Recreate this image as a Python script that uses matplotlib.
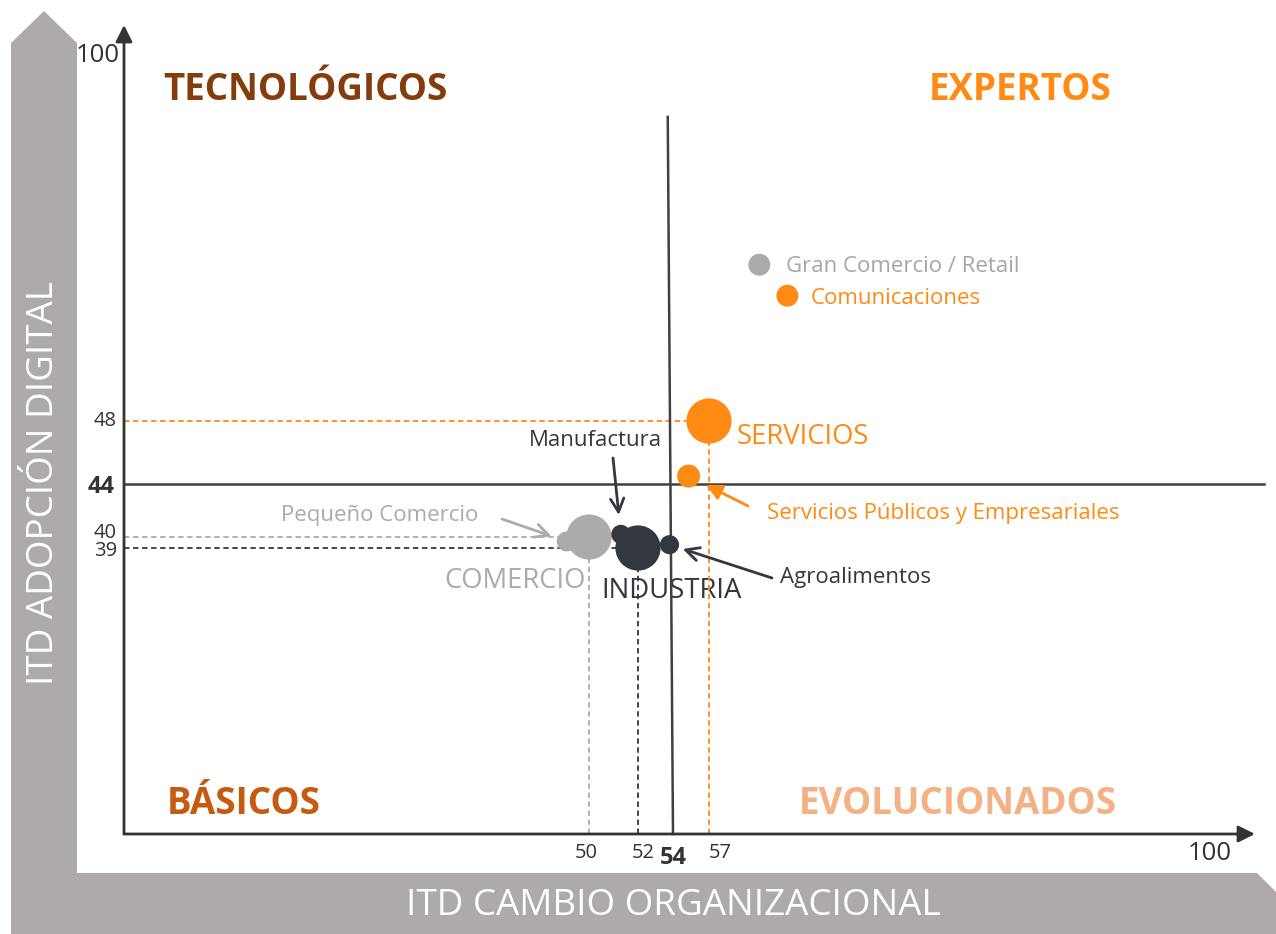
import numpy as np
import matplotlib
matplotlib.use("Agg")
import matplotlib.pyplot as plt
from matplotlib.patches import Polygon

plt.rcParams['font.family'] = ['Open Sans', 'DejaVu Sans']

# ---------------- data ----------------
sectors = ["SERVICIOS", "COMERCIO", "INDUSTRIA"]
sector_x = [57, 50, 52]          # ITD cambio organizacional
sector_y = [48, 40, 39]          # ITD adopción digital

subsectors = ["Servicios Públicos y Empresariales", "Pequeño Comercio",
              "Manufactura", "Agroalimentos",
              "Gran Comercio / Retail", "Comunicaciones"]
sub_x = [55.3, 47.6, 51.3, 53.8, 61.3, 63.7]
sub_y = [44.5, 39.6, 40.2, 39.3, 70.2, 65.8]

avg_x = 54    # media cambio organizacional
avg_y = 44    # media adopción digital
x_ticks = [50, 52, 54, 57]
y_ticks = [39, 40, 44, 48]

quadrants = ["TECNOLÓGICOS", "EXPERTOS", "BÁSICOS", "EVOLUCIONADOS"]

# ---------------- style ----------------
ORANGE = "#FF8A14"
GRAY = "#ADAAAA"
DARK = "#343740"
AXIS = "#333333"
BAND = "#AEAAA9"

W, H = 1276, 934
fig = plt.figure(figsize=(W / 100, H / 100), dpi=100)

# background overlay in pixel coordinates
bg = fig.add_axes([0, 0, 1, 1])
bg.set_xlim(0, W)
bg.set_ylim(H, 0)
bg.axis("off")
band = Polygon([(11, H), (11, 43), (44, 11), (77, 43), (77, 873), (1257, 873),
                (1300, 916), (1282, H + 30)], closed=True, color=BAND, lw=0)
bg.add_patch(band)
bg.text(44, 483, "ITD ADOPCIÓN DIGITAL", rotation=90, color="white",
        fontsize=26.5, ha="center", va="center")
bg.text(673, 906, "ITD CAMBIO ORGANIZACIONAL", color="white",
        fontsize=26.5, ha="center", va="center")

# main axes with schematic (piecewise) scale
x0, x1, yb, yt = 124, 1255, 834, 25
ax = fig.add_axes([x0 / W, (H - yb) / H, (x1 - x0) / W, (yb - yt) / H])
ax.patch.set_alpha(0)

xv = [0, 50, 52, 54, 57, 100, 104, 120]
xp = [124, 589, 638, 673, 709, 1212, 1255, 1427]
yv = [0, 39, 40, 44, 48, 100, 104]
yp = [H - p for p in [834, 548, 537, 484, 421, 55, 25]]

ax.set_xscale("function", functions=(lambda v: np.interp(v, xv, xp),
                                     lambda p: np.interp(p, xp, xv)))
ax.set_yscale("function", functions=(lambda v: np.interp(v, yv, yp),
                                     lambda p: np.interp(p, yp, yv)))
ax.set_xlim(0, 104)
ax.set_ylim(0, 104)
for s in ax.spines.values():
    s.set_visible(False)
ax.set_xticks([])
ax.set_yticks([])

# axis arrows
ax.annotate("", xy=(104, 0), xytext=(0, 0),
            arrowprops=dict(arrowstyle="-|>", color=AXIS, lw=2, mutation_scale=25,
                            shrinkA=0, shrinkB=0), annotation_clip=False)
ax.annotate("", xy=(0, 104), xytext=(0, 0),
            arrowprops=dict(arrowstyle="-|>", color=AXIS, lw=2, mutation_scale=25,
                            shrinkA=0, shrinkB=0), annotation_clip=False)

# average lines
ax.plot([0, 104.8], [avg_y, avg_y], color="#404040", lw=1.8, clip_on=False, zorder=2)
ax.plot([avg_x, 53.7], [0, 91.2], color="#404040", lw=1.8, clip_on=False, zorder=2)

# dashed guide lines from sectors
sec_colors = [ORANGE, GRAY, DARK]
for x, y, c in zip(sector_x, sector_y, sec_colors):
    ax.plot([0, x], [y, y], ls=(0, (3, 2)), color=c, lw=1.3, zorder=1)
    ax.plot([x, x], [0, y], ls=(0, (3, 2)), color=c, lw=1.3, zorder=1)

# bubbles
big = 1060
ax.scatter(sector_x, sector_y, s=big, color=sec_colors, zorder=4, lw=0)
sub_colors = [ORANGE, GRAY, DARK, DARK, GRAY, ORANGE]
sub_sizes = [275, 207, 190, 190, 250, 250]
ax.scatter(sub_x, sub_y, s=sub_sizes, color=sub_colors, zorder=4, lw=0)

# tick labels
for v in x_ticks:
    bold = v == avg_x
    dx = {50: -2, 52: 4, 54: 0, 57: 8}[v]
    ax.annotate(str(v), xy=(v, 0), xytext=(dx, -14 if not bold else -17),
                textcoords="offset points", ha="center", va="center",
                fontsize=17 if bold else 14.5, fontweight="bold" if bold else "normal",
                color="#333333", annotation_clip=False)
for v in y_ticks:
    bold = v == avg_y
    dy = {39: -2, 40: 3, 44: -2, 48: 0}[v]
    ax.annotate(str(v), xy=(0, v), xytext=(-5 if not bold else -7, dy),
                textcoords="offset points", ha="right", va="center",
                fontsize=17 if bold else 14.5, fontweight="bold" if bold else "normal",
                color="#333333", annotation_clip=False)
bg.text(98, 56, "100", fontsize=18.5, color="#333333", ha="center", va="center")
bg.text(1210, 853, "100", fontsize=18.5, color="#333333", ha="center", va="center")

# quadrant labels
qcol = ["#843C0C", ORANGE, "#C55A11", "#F4B183"]
qpos = [(163, 90, "left"), (1112, 90, "right"), (167, 804, "left"), (1117, 804, "right")]
for t, c, (px, py, ha) in zip(quadrants, qcol, qpos):
    bg.text(px, py, t, color=c, fontsize=26.5, fontweight="bold", ha=ha, va="center")

# sector labels
bg.text(737, 437, "SERVICIOS", color=ORANGE, fontsize=19.8, ha="left", va="center")
bg.text(586, 581, "COMERCIO", color=GRAY, fontsize=19.8, ha="right", va="center")
bg.text(672, 591, "INDUSTRIA", color=DARK, fontsize=19.8, ha="center", va="center", zorder=5)

# legend-like labels for high subsectors
bg.text(786, 266, subsectors[4], color="#A6A6A6", fontsize=16, ha="left", va="center")
bg.text(811, 298, subsectors[5], color=ORANGE, fontsize=16, ha="left", va="center")

# annotated subsectors
def note(i, txt_xy, text_anchor, ha, color, shrink, style="->"):
    ax.annotate("", xy=(sub_x[i], sub_y[i]), xytext=txt_xy, textcoords=bg.transData,
                arrowprops=dict(arrowstyle=style, color=color, lw=2, mutation_scale=24,
                                shrinkA=0, shrinkB=shrink), zorder=5)
    bg.text(text_anchor[0], text_anchor[1], subsectors[i], color=color, fontsize=16,
            ha=ha, va="center")

note(0, (748, 506), (767, 514), "left", ORANGE, 14, style="-|>")
note(1, (502, 519), (478, 516), "right", GRAY, 11.5)
note(2, (613, 458), (595, 441), "center", DARK, 14)
note(3, (772, 578), (780, 577), "left", DARK, 10)

fig.savefig("out.png", dpi=100)
